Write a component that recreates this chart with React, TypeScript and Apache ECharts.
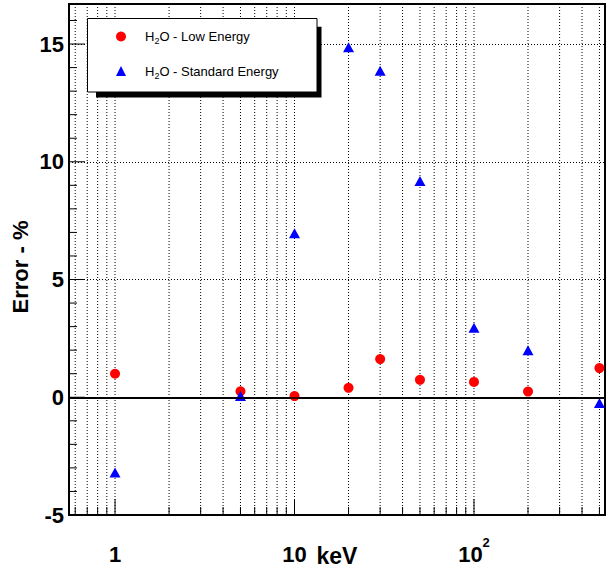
import React, { useEffect, useRef } from 'react';
import * as echarts from 'echarts';

const ENERGY = [1, 5, 10, 20, 30, 50, 100, 200, 500];
const LOW_ERR = [1.0, 0.25, 0.05, 0.4, 1.62, 0.74, 0.65, 0.24, 1.24];
const STD_ERR = [-3.2, 0.05, 6.96, 14.86, 13.87, 9.18, 2.95, 2.0, -0.24];

const X_TICKS = [0.6, 0.7, 0.8, 0.9, 1, 2, 3, 4, 5, 6, 7, 8, 9, 10, 20, 30, 40, 50, 60, 70, 80, 90, 100, 200, 300, 400, 500];
const X_MAJOR = [1, 10, 100];
const Y_TICKS = [-4, -3, -2, -1, 0, 1, 2, 3, 4, 5, 6, 7, 8, 9, 10, 11, 12, 13, 14, 15, 16];
const Y_MAJOR = [0, 5, 10, 15];

const X_MIN = 0.554;
const X_MAX = 537;
const Y_MIN = -5;
const Y_MAX = 16.7;

const LOW_NAME = 'H2O - Low Energy';
const STD_NAME = 'H2O - Standard Energy';

const FONT = 'Liberation Sans, Arial, Helvetica, sans-serif';

export default function App() {
  const ref = useRef<HTMLDivElement>(null);
  useEffect(() => {
    const chart = echarts.init(ref.current!, null, { renderer: 'svg' });
    const option: any = {
      animation: false,
      backgroundColor: '#fff',
      grid: {
        left: 69, top: 4, right: 8, bottom: 54,
        outerBoundsMode: 'none', containLabel: false,
        show: true, borderColor: '#000', borderWidth: 2, backgroundColor: 'transparent',
      },
      xAxis: {
        type: 'log',
        logBase: 10,
        min: X_MIN,
        max: X_MAX,
        name: 'keV',
        nameLocation: 'middle',
        nameGap: 29,
        nameMoveOverlap: false,
        nameTextStyle: { fontFamily: FONT, fontSize: 23, fontWeight: 'bold', color: '#000' },
        axisLine: { show: true, lineStyle: { color: '#000', width: 2 } },
        axisTick: { show: false },
        splitLine: { show: false },
        minorTick: { show: false },
        axisLabel: {
          margin: 21,
          showMinLabel: false,
          showMaxLabel: false,
          formatter: (v: number) => {
            if (Math.abs(v - 1) < 1e-6) return '{b|1}';
            if (Math.abs(v - 10) < 1e-6) return '{b|10}';
            if (Math.abs(v - 100) < 1e-4) return '{b|10}{s|2}';
            return '';
          },
          rich: {
            b: { fontFamily: FONT, fontSize: 22, fontWeight: 'bold', color: '#000', lineHeight: 36 },
            s: { fontFamily: FONT, fontSize: 13, fontWeight: 'bold', color: '#000', verticalAlign: 'top' },
          },
        },
      },
      yAxis: {
        type: 'value',
        min: Y_MIN,
        max: Y_MAX,
        interval: 5,
        name: 'Error - %',
        nameLocation: 'middle',
        nameGap: 38,
        nameRotate: 90,
        nameMoveOverlap: false,
        nameTextStyle: { fontFamily: FONT, fontSize: 22, fontWeight: 'bold', color: '#000', padding: [0, 15, 0, 0] },
        axisLine: { show: true, lineStyle: { color: '#000', width: 2 } },
        axisTick: { show: false },
        axisLabel: { margin: 5, showMaxLabel: false, fontFamily: FONT, fontSize: 22, fontWeight: 'bold', color: '#000' },
        splitLine: { show: true, lineStyle: { color: '#000', width: 1, type: [1, 2] } },
      },
      legend: {
        orient: 'vertical',
        left: 111,
        top: 25,
        itemWidth: 10,
        itemHeight: 10,
        itemGap: 19,
        symbolKeepAspect: true,
        data: [
          { name: LOW_NAME, icon: 'circle' },
          { name: STD_NAME, icon: 'triangle' },
        ],
        formatter: (name: string) => '{p| }{a|H}{sub|2}{a|' + name.slice(2) + '}',
        textStyle: {
          rich: {
            p: { width: 14, fontSize: 13, lineHeight: 18 },
            a: { fontFamily: FONT, fontSize: 13, color: '#000', lineHeight: 18 },
            sub: { fontFamily: FONT, fontSize: 9, color: '#000', verticalAlign: 'bottom' },
          },
        },
        z: 20,
      },
      graphic: [
        { type: 'rect', z: 15, shape: { x: 96, y: 26.7, width: 225.5, height: 70.8 }, style: { fill: '#000' } },
        { type: 'rect', z: 16, shape: { x: 87.5, y: 18.5, width: 229.5, height: 73.5 }, style: { fill: '#fff', stroke: '#000', lineWidth: 1 } },
      ],
      series: [
        {
          type: 'custom',
          name: 'xgrid',
          z: 1,
          silent: true,
          encode: { x: 0, y: 1 },
          data: X_TICKS.map((t) => [t, Y_MIN, X_MAJOR.includes(t) ? 1 : 0]),
          renderItem: (params: any, api: any) => {
            const x = api.value(0);
            const major = api.value(2);
            const top = api.coord([x, Y_MAX]);
            const bot = api.coord([x, Y_MIN]);
            const len = major ? 16 : 8;
            return {
              type: 'group',
              children: [
                { type: 'line', shape: { x1: bot[0], y1: top[1], x2: bot[0], y2: bot[1] }, style: { stroke: '#000', lineWidth: 1, lineDash: [1, 2] } },
                { type: 'line', shape: { x1: bot[0], y1: bot[1], x2: bot[0], y2: bot[1] - len }, style: { stroke: '#000', lineWidth: 1 } },
              ],
            };
          },
        },
        {
          type: 'custom',
          name: 'yticks',
          z: 1,
          silent: true,
          encode: { x: 0, y: 1 },
          data: Y_TICKS.map((t) => [X_MIN, t, Y_MAJOR.includes(t) ? 1 : 0]),
          renderItem: (params: any, api: any) => {
            const y = api.value(1);
            const major = api.value(2);
            const p = api.coord([X_MIN, y]);
            const len = major ? 16 : 8;
            return { type: 'line', shape: { x1: p[0], y1: p[1], x2: p[0] + len, y2: p[1] }, style: { stroke: '#000', lineWidth: 1 } };
          },
        },
        {
          type: 'scatter',
          name: 'zero',
          z: 2,
          data: [],
          markLine: {
            silent: true,
            symbol: 'none',
            label: { show: false },
            lineStyle: { color: '#000', type: 'solid', width: 1.5 },
            data: [{ yAxis: 0 }],
          },
        },
        {
          type: 'scatter',
          name: LOW_NAME,
          z: 3,
          symbol: 'circle',
          symbolSize: 10,
          itemStyle: { color: '#ff0000', opacity: 1 },
          data: ENERGY.map((e, i) => [e, LOW_ERR[i]]),
        },
        {
          type: 'scatter',
          name: STD_NAME,
          z: 3,
          symbol: 'triangle',
          symbolSize: [11, 10],
          itemStyle: { color: '#0000ff', opacity: 1 },
          data: ENERGY.map((e, i) => [e, STD_ERR[i]]),
        },
      ],
    };
    chart.setOption(option);
    return () => chart.dispose();
  }, []);
  return <div ref={ref} style={{ position: 'absolute', left: 0, top: 0, width: 613, height: 569, background: '#fff' }} />;
}
